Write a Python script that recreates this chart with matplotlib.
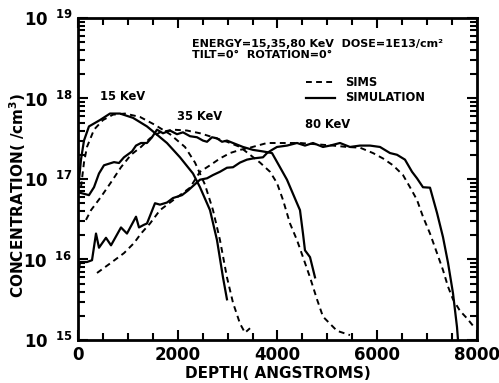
import numpy as np
import matplotlib
matplotlib.use("Agg")
import matplotlib.pyplot as plt
from matplotlib.ticker import FixedLocator, LogLocator, NullFormatter, MultipleLocator

plt.rcParams['font.family'] = ['DejaVu Sans']
plt.rcParams['font.weight'] = 'bold'
plt.rcParams['mathtext.default'] = 'bf'

# 15 keV
d15_sim = [0, 60, 120, 220, 441, 642, 842, 1103, 1383, 1584, 1784, 2045, 2306, 2446, 2647, 2787, 2907, 2987]
c15_sim = [7.2e16, 1.74e17, 3.0e17, 4.5e17, 5.4e17, 6.5e17, 6.5e17, 5.75e17, 4.5e17, 3.55e17, 2.8e17,
           1.86e17, 1.17e17, 7.9e16, 4.1e16, 1.74e16, 6.0e15, 3.2e15]
d15_sims = [60, 120, 180, 321, 501, 702, 942, 1243, 1544, 1845, 2145, 2346, 2546, 2707, 2847, 2987,
            3108, 3248, 3348, 3449]
c15_sims = [7.9e16, 1.6e17, 2.5e17, 4.1e17, 5.4e17, 6.3e17, 6.5e17, 5.9e17, 4.7e17, 3.6e17, 2.5e17,
            1.6e17, 8.5e16, 4.1e16, 1.74e16, 6.0e15, 2.9e15, 1.6e15, 1.23e15, 1.4e15]

# 35 keV
d35_sim = [20, 220, 321, 421, 521, 722, 822, 922, 1083, 1163, 1263, 1383, 1484, 1584, 1704, 1845, 1985,
           2105, 2246, 2386, 2506, 2587, 2687, 2787, 2887, 2987, 3108, 3308, 3509, 3709, 3890, 4050,
           4190, 4391, 4451, 4511, 4551, 4652, 4752]
c35_sim = [6.8e16, 6.3e16, 7.9e16, 1.17e17, 1.48e17, 1.62e17, 1.58e17, 1.86e17, 2.2e17, 2.6e17, 2.8e17,
           2.8e17, 3.3e17, 4.1e17, 3.7e17, 4.0e17, 3.6e17, 3.8e17, 3.4e17, 3.3e17, 3.0e17, 2.9e17,
           3.3e17, 3.2e17, 2.9e17, 3.0e17, 2.8e17, 2.5e17, 2.3e17, 2.2e17, 2.1e17, 1.4e17, 9.8e16,
           5.0e16, 4.1e16, 2.1e16, 1.3e16, 1.07e16, 6.0e15]
d35_sims = [160, 261, 461, 662, 862, 1063, 1263, 1444, 1644, 1905, 2185, 2446, 2707, 2987, 3248, 3449,
            3649, 3850, 3990, 4110, 4251, 4391, 4511, 4652, 4792, 4912, 5193, 5453]
c35_sims = [3.1e16, 4.1e16, 6.0e16, 9.1e16, 1.4e17, 2.0e17, 2.5e17, 3.2e17, 3.8e17, 4.1e17, 4.0e17,
            3.7e17, 3.3e17, 2.9e17, 2.5e17, 2.0e17, 1.6e17, 1.23e17, 8.9e16, 5.5e16, 2.8e16, 1.74e16,
            1.07e16, 6.0e15, 3.2e15, 1.95e15, 1.3e15, 1.15e15]

# 80 keV
d80_sim = [0, 40, 180, 281, 361, 421, 561, 662, 862, 982, 1163, 1223, 1323, 1383, 1544, 1644, 1784,
           1905, 2085, 2206, 2446, 2587, 2707, 2847, 2987, 3108, 3248, 3388, 3509, 3709, 3790, 3890,
           3990, 4190, 4391, 4551, 4712, 4912, 5053, 5253, 5453, 5654, 5855, 6055, 6256, 6396, 6556,
           6697, 6797, 6917, 7058, 7198, 7318, 7419, 7519, 7599, 7619]
c80_sim = [6.0e15, 9.3e15, 9.3e15, 9.8e15, 2.1e16, 1.4e16, 1.86e16, 1.5e16, 2.5e16, 2.1e16, 3.4e16,
           2.5e16, 2.7e16, 2.8e16, 5.0e16, 4.8e16, 5.1e16, 5.8e16, 6.3e16, 7.2e16, 9.8e16, 1.02e17,
           1.12e17, 1.23e17, 1.38e17, 1.4e17, 1.6e17, 1.74e17, 1.8e17, 1.86e17, 2.1e17, 2.3e17, 2.5e17,
           2.6e17, 2.8e17, 2.6e17, 2.8e17, 2.5e17, 2.6e17, 2.8e17, 2.5e17, 2.6e17, 2.6e17, 2.5e17,
           2.1e17, 2.0e17, 1.74e17, 1.23e17, 1.02e17, 7.9e16, 7.8e16, 3.8e16, 1.9e16, 9.1e15, 3.8e15,
           1.45e15, 1.0e15]
d80_sims = [381, 662, 922, 1123, 1263, 1444, 1644, 1845, 2045, 2246, 2446, 2647, 2847, 3048, 3248, 3449,
            3790, 4451, 5113, 5393, 5654, 5915, 6115, 6316, 6516, 6657, 6797, 6917, 7058, 7198, 7318,
            7419, 7519, 7659, 7799, 7960]
c80_sims = [6.8e15, 9.1e15, 1.2e16, 1.6e16, 2.1e16, 2.8e16, 4.1e16, 5.1e16, 6.3e16, 7.8e16, 1.23e17,
            1.48e17, 1.8e17, 2.1e17, 2.3e17, 2.45e17, 2.8e17, 2.8e17, 2.6e17, 2.5e17, 2.45e17, 2.1e17,
            1.8e17, 1.48e17, 1.12e17, 7.9e16, 5.5e16, 3.4e16, 2.1e16, 1.2e16, 7.4e15, 4.6e15, 3.2e15,
            2.3e15, 1.86e15, 1.4e15]

fig = plt.figure(figsize=(4.99, 3.83), dpi=100)
ax = fig.add_axes([0.1563, 0.1123, 0.7996, 0.8407])

sim_kw = dict(color='black', lw=1.6, ls='-')
sims_kw = dict(color='black', lw=1.4, ls=(0, (3, 2.2)))

ax.plot(d15_sim, c15_sim, **sim_kw)
ax.plot(d35_sim, c35_sim, **sim_kw)
ax.plot(d80_sim, c80_sim, **sim_kw)
ax.plot(d15_sims, c15_sims, **sims_kw)
ax.plot(d35_sims, c35_sims, **sims_kw)
ax.plot(d80_sims, c80_sims, **sims_kw)

ax.set_yscale('log')
ax.set_xlim(0, 8000)
ax.set_ylim(1e15, 1e19)

ax.xaxis.set_major_locator(FixedLocator([0, 2000, 4000, 6000, 8000]))
ax.xaxis.set_minor_locator(MultipleLocator(500))
ax.set_xticklabels(['0', '2000', '4000', '6000', '8000'])
ax.yaxis.set_major_locator(FixedLocator([1e15, 1e16, 1e17, 1e18, 1e19]))
ax.yaxis.set_minor_locator(LogLocator(base=10, subs=np.arange(2, 10)))
ax.yaxis.set_minor_formatter(NullFormatter())
ax.set_yticklabels([r'$10^{\ \ 15}$', r'$10^{\ \ 16}$', r'$10^{\ \ 17}$',
                    r'$10^{\ \ 18}$', r'$10^{\ \ 19}$'])

ax.tick_params(which='both', direction='in', top=True, right=True, width=1.5, labelsize=12)
ax.tick_params(which='major', length=7, pad=4)
ax.tick_params(which='minor', length=5)
for s in ax.spines.values():
    s.set_linewidth(2)

ax.set_xlabel('DEPTH( ANGSTROMS)', fontsize=11, fontweight='bold', labelpad=2)
ax.set_ylabel('CONCENTRATION( /cm$^3$)', fontsize=11, fontweight='bold')
ax.yaxis.set_label_coords(-0.125, 0.45)

ax.text(2290, 4.8e18, 'ENERGY=15,35,80 KeV  DOSE=1E13/cm²', fontsize=8, fontweight='bold', va='center')
ax.text(2290, 3.5e18, 'TILT=0°  ROTATION=0°', fontsize=8, fontweight='bold', va='center')

ax.plot([4580, 5150], [1.6e18, 1.6e18], **sims_kw)
ax.plot([4580, 5150], [1.02e18, 1.02e18], **sim_kw)
ax.text(5350, 1.6e18, 'SIMS', fontsize=8.3, fontweight='bold', va='center')
ax.text(5350, 1.02e18, 'SIMULATION', fontsize=8.3, fontweight='bold', va='center')

ax.text(450, 1.05e18, '15 KeV', fontsize=8.3, fontweight='bold', va='center')
ax.text(1980, 5.9e17, '35 KeV', fontsize=8.3, fontweight='bold', va='center')
ax.text(4550, 4.7e17, '80 KeV', fontsize=8.3, fontweight='bold', va='center')

fig.savefig('out.png', dpi=100)
